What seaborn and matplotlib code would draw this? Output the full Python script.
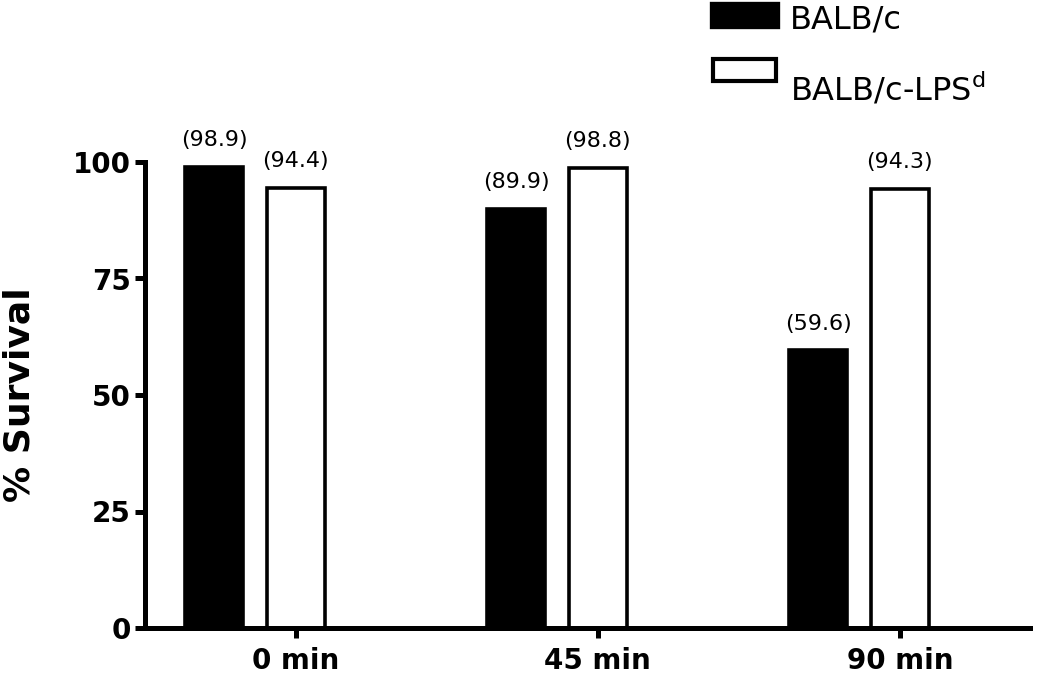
import seaborn as sns
import pandas as pd
import matplotlib.pyplot as plt
from matplotlib.patches import Rectangle

# survival data
times = ['0 min', '45 min', '90 min']
strains = ['BALB/c', 'BALB/c-LPS$^{d}$']
balbc = [98.9, 89.9, 59.6]
balbc_lps = [94.4, 98.8, 94.3]

rows = []
for t, a, b in zip(times, balbc, balbc_lps):
    rows.append({'time': t, 'strain': strains[0], 'survival': a})
    rows.append({'time': t, 'strain': strains[1], 'survival': b})
df = pd.DataFrame(rows)

sns.set_style('ticks')
plt.rcParams['font.family'] = ['DejaVu Sans']
plt.rcParams['mathtext.default'] = 'regular'
plt.rcParams['text.color'] = 'black'
plt.rcParams['axes.labelcolor'] = 'black'
plt.rcParams['xtick.color'] = 'black'
plt.rcParams['ytick.color'] = 'black'
plt.rcParams['axes.edgecolor'] = 'black'

fig = plt.figure(figsize=(10.5, 6.8), dpi=100)
ax = fig.add_axes([145 / 1050, 1 - 628 / 680, (1030 - 145) / 1050, (628 - 162) / 680])

palette = {strains[0]: 'black', strains[1]: 'white'}
sns.barplot(data=df, x='time', y='survival', hue='strain', palette=palette,
            saturation=1, width=0.54, gap=0.29, edgecolor='black', linewidth=2.6,
            ax=ax, legend=False)

for cont, vals in zip(ax.containers, [balbc, balbc_lps]):
    ax.bar_label(cont, labels=['({})'.format(v) for v in vals], padding=12,
                 fontsize=16, clip_on=False)

# tick marks sit under the white bars in the original
tick_pos = [b.get_x() + b.get_width() / 2 for b in ax.containers[1]]
ax.set_xticks(tick_pos)
ax.set_xticklabels(times, fontsize=20, fontweight='bold')
ax.set_xlim(-0.364, 2.566)
ax.set_ylim(0, 100)
ax.set_yticks([0, 25, 50, 75, 100])
ax.set_yticklabels(['0', '25', '50', '75', '100'], fontsize=20, fontweight='bold')
ax.set_xlabel('')
ax.set_ylabel('% Survival', fontsize=26, fontweight='bold', labelpad=26)
ax.tick_params(width=3.6, length=7, pad=3)
ax.tick_params(axis='x', pad=7)
for s in ['left', 'bottom']:
    ax.spines[s].set_linewidth(3.6)
sns.despine(ax=ax)

# legend drawn by hand: the second box sits higher than its text in the original
W, H = 1050, 680
fig.add_artist(Rectangle((711 / W, 1 - 27 / H), 67 / W, 24 / H, transform=fig.transFigure,
                         facecolor='black', edgecolor='black', linewidth=2.4))
fig.add_artist(Rectangle((713 / W, 1 - 81 / H), 63 / W, 22 / H, transform=fig.transFigure,
                         facecolor='white', edgecolor='black', linewidth=3.0))
fig.text(790 / W, 1 - 28 / H, strains[0], fontsize=23, va='baseline', ha='left')
fig.text(790 / W, 1 - 100 / H, strains[1], fontsize=23, va='baseline', ha='left')

plt.savefig('out.png', dpi=100)
plt.close()
